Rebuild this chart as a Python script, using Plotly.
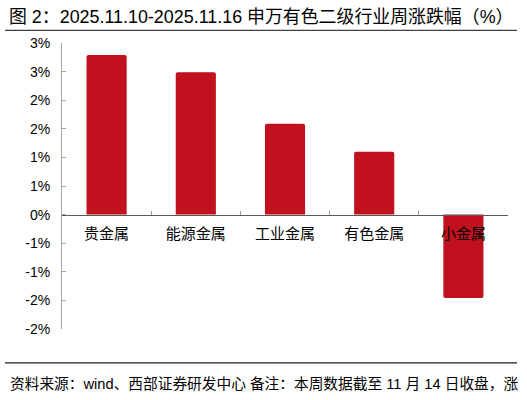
import plotly.graph_objects as go

categories = ["贵金属", "能源金属", "工业金属", "有色金属", "小金属"]
weekly_change = [2.79, 2.49, 1.59, 1.10, -1.46]
tick_values = [-2, -1.5, -1, -0.5, 0, 0.5, 1, 1.5, 2, 2.5, 3]
tick_labels = ["-2%", "-2%", "-1%", "-1%", "0%", "1%", "1%", "2%", "2%", "3%", "3%"]

title_text = "图 2：2025.11.10-2025.11.16 申万有色二级行业周涨跌幅（%）"
footer_text = "资料来源：wind、西部证券研发中心 备注：本周数据截至 11 月 14 日收盘，涨"

W, H = 527, 400
L, R, T, B = 62, 19, 42.7, 70.7
pw, ph = W - L - R, H - T - B

def px(x):
    return (x - L) / pw

def py(y):
    return (H - B - y) / ph

BAR = "#C1101E"
CJK = "Noto Sans CJK SC"
MIX = "Liberation Sans, Noto Sans CJK SC"

fig = go.Figure()
fig.add_trace(go.Bar(
    x=categories, y=weekly_change,
    marker=dict(color=BAR, line=dict(width=0)),
    width=0.45,
))

fig.update_layout(
    width=W, height=H,
    margin=dict(l=L, r=R, t=T, b=B, pad=0),
    paper_bgcolor="white", plot_bgcolor="white",
    showlegend=False,
    barcornerradius=2,
    font=dict(family=CJK, color="#000000"),
    xaxis=dict(
        range=[-0.5, 4.5],
        anchor="free", position=0.4,
        showline=True, linecolor="#595959", linewidth=1,
        ticks="inside", tickson="boundaries", ticklen=4, tickcolor="#9a9a9a",
        showgrid=False, zeroline=False,
        tickfont=dict(family=CJK, size=15, color="#000000"),
        ticklabelstandoff=5,
    ),
    yaxis=dict(
        range=[-2, 3],
        tickvals=tick_values, ticktext=tick_labels,
        showline=True, linecolor="#a6a6a6", linewidth=1,
        ticks="inside", ticklen=4, tickcolor="#a6a6a6",
        showgrid=False, zeroline=False,
        tickfont=dict(family="Liberation Sans", size=14, color="#000000"),
        ticklabelstandoff=8,
    ),
    shapes=[
        dict(type="line", xref="paper", yref="paper",
             x0=px(5), x1=px(517), y0=py(30), y1=py(30),
             line=dict(color="#404040", width=1.3)),
        dict(type="line", xref="paper", yref="paper",
             x0=px(5), x1=px(517), y0=py(363.3), y1=py(363.3),
             line=dict(color="#202020", width=1.3)),
    ],
    annotations=[
        dict(text=title_text, xref="paper", yref="paper",
             x=px(7), y=py(17), xanchor="left", yanchor="middle",
             showarrow=False, font=dict(family=MIX, size=17.9, color="#000000")),
        dict(text=footer_text, xref="paper", yref="paper",
             x=px(8), y=py(384), xanchor="left", yanchor="middle",
             showarrow=False, font=dict(family=MIX, size=14.7, color="#000000")),
    ],
)

fig.write_html("out.html", config={"displayModeBar": False},
               post_script="document.body.style.margin='0';")
